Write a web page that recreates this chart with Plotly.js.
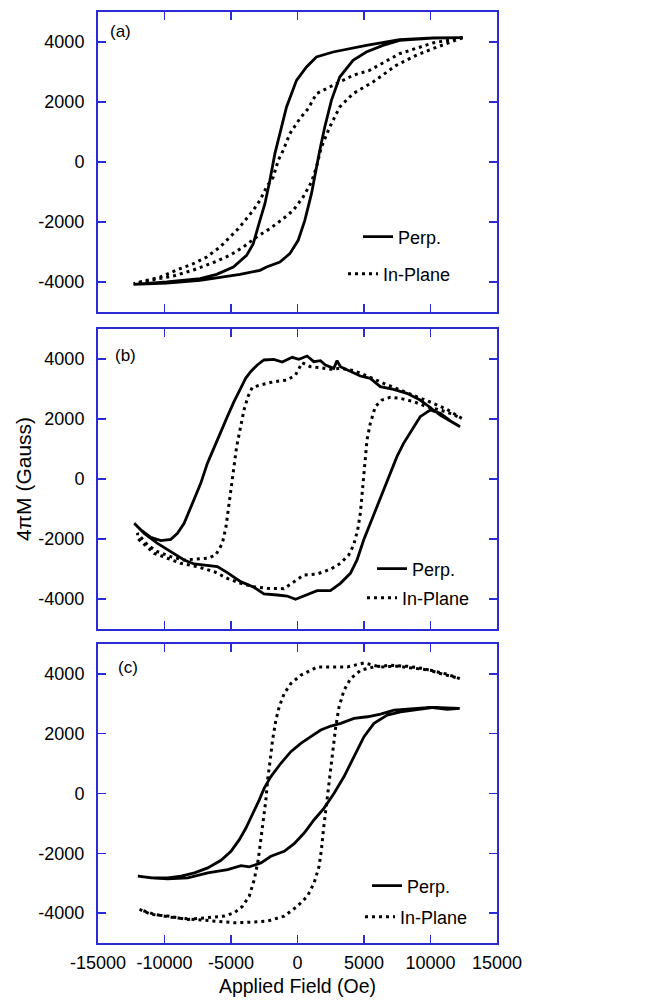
<!DOCTYPE html>
<html>
<head>
<meta charset="utf-8">
<script src="https://cdn.plot.ly/plotly-3.0.1.min.js"></script>
<style>html,body{margin:0;padding:0;background:#fff;}</style>
</head>
<body>
<div id="chart" style="width:655px;height:1003px;"></div>
<script>
// ---------- Panel (a) ----------
const aPerpDescH = [12425, 10175, 7675, 5175, 2675, 1425, 675, -75, -825, -1325, -1700, -2075, -2450, -2825, -3325, -3825, -4825, -6075, -7325, -9825, -12325];
const aPerpDescM = [4144, 4133, 4078, 3889, 3667, 3500, 3167, 2722, 1833, 944, 278, -611, -1389, -1944, -2722, -3111, -3500, -3744, -3889, -4000, -4078];
const aPerpAscH = [-9825, -7325, -4825, -4325, -2825, -2325, -1325, -575, 50, 550, 1050, 1425, 1675, 2050, 2550, 3175, 4175, 5175, 6425, 7675, 10175, 12425];
const aPerpAscM = [-4033, -3944, -3778, -3744, -3611, -3500, -3333, -3056, -2611, -1944, -1056, -167, 389, 1167, 2056, 2833, 3389, 3667, 3889, 4056, 4133, 4144];

const aInDescH = [12425, 10175, 7675, 5425, 4175, 2675, 1425, 800, 175, -575, -1075, -1450, -1825, -2325, -2825, -3325, -3825, -4450, -5075, -5825, -6825, -7825, -8825, -10325, -11825, -12325];
const aInDescM = [4144, 3967, 3611, 3056, 2889, 2556, 2278, 1778, 1444, 944, 389, 56, -500, -833, -1278, -1611, -1889, -2222, -2500, -2833, -3167, -3389, -3556, -3833, -4000, -4056];
const aInAscH = [-11075, -9325, -7825, -6325, -5075, -4075, -3075, -2075, -1075, -325, 425, 1050, 1425, 1800, 2425, 3175, 4175, 5675, 7425, 8925, 10175, 12425];
const aInAscM = [-3944, -3800, -3600, -3350, -3111, -2833, -2500, -2222, -1889, -1611, -1167, -667, -167, 500, 1167, 1833, 2278, 2667, 3222, 3556, 3778, 4144];

// ---------- Panel (b) ----------
const bPerpDescH = [12225, 11475, 10725, 10225, 9225, 8225, 7225, 6225, 5475, 4725, 3975, 3225, 2975, 2725, 2100, 1725, 1225, 725, 100, -400, -1150, -1775, -2525, -3025, -3525, -3900, -4275, -4775, -5275, -5775, -6275, -6775, -7275, -7900, -8525, -9025, -9525, -10275, -11025, -11775, -12275];
const bPerpDescM = [1744, 1944, 2133, 2300, 2633, 2856, 2989, 3078, 3356, 3433, 3578, 3744, 3944, 3689, 3800, 3944, 3911, 4100, 3989, 4056, 3900, 3989, 3967, 3800, 3578, 3356, 3022, 2578, 2078, 1578, 1078, 522, -144, -811, -1478, -1811, -2011, -2056, -1944, -1700, -1478];
const bPerpAscH = [-11525, -10525, -9525, -8525, -7775, -6775, -6025, -5275, -4275, -3275, -2525, -1525, -775, -150, 475, 1475, 2475, 3225, 3975, 4475, 4975, 5475, 5975, 6475, 6975, 7475, 7975, 8725, 9225, 9975, 10725, 11475, 12225];
const bPerpAscM = [-1811, -2144, -2422, -2700, -2833, -2889, -2922, -3122, -3422, -3611, -3833, -3867, -3900, -4011, -3900, -3722, -3722, -3478, -3144, -2700, -2033, -1478, -922, -367, 189, 744, 1189, 1744, 2078, 2300, 2189, 1944, 1744];

const bInDescH = [12350, 11225, 10225, 8975, 7725, 6475, 5225, 4225, 3225, 2475, 1725, 975, 350, -150, -775, -1775, -2775, -3400, -3725, -4025, -4325, -4575, -4775, -4975, -5175, -5375, -5650, -6150, -6775, -7525, -8525, -9525, -10525, -11275, -12025];
const bInDescM = [2022, 2322, 2522, 2744, 2944, 3189, 3433, 3611, 3689, 3656, 3711, 3744, 3878, 3467, 3300, 3244, 3133, 3056, 2744, 2300, 1633, 1078, 411, -256, -922, -1589, -2144, -2533, -2644, -2678, -2700, -2589, -2422, -2200, -1811];
const bInAscH = [-12025, -10775, -9775, -8775, -7525, -6275, -5275, -4275, -3275, -2275, -1025, -275, 475, 1475, 2475, 3225, 3850, 4225, 4525, 4725, 4850, 4975, 5100, 5225, 5475, 5850, 6350, 6975, 7725, 8725, 9725, 10725, 11475, 12350];
const bInAscM = [-1978, -2478, -2644, -2811, -2922, -3089, -3311, -3478, -3589, -3644, -3656, -3422, -3200, -3167, -3011, -2811, -2533, -2200, -1700, -1144, -589, -33, 633, 1300, 1856, 2411, 2633, 2722, 2689, 2578, 2411, 2300, 2189, 2022];

// ---------- Panel (c) ----------
const cPerpDescH = [12200, 11250, 10000, 8750, 7250, 6250, 5250, 4250, 3250, 2500, 1750, 1000, 250, -500, -1250, -2000, -2500, -2875, -3375, -3875, -4375, -5000, -5750, -6750, -7750, -8750, -9750, -11000, -12000];
const cPerpDescM = [2844, 2811, 2878, 2833, 2789, 2656, 2567, 2511, 2344, 2256, 2122, 1900, 1678, 1400, 1011, 567, 178, -211, -656, -1156, -1544, -1933, -2233, -2489, -2656, -2767, -2822, -2822, -2767];
const cPerpAscH = [-10750, -9750, -8250, -6750, -5250, -4250, -3625, -2750, -2000, -1000, -250, 500, 1250, 2000, 2750, 3500, 4250, 5000, 5750, 6750, 7750, 9000, 10250, 12200];
const cPerpAscM = [-2833, -2856, -2822, -2656, -2544, -2411, -2456, -2322, -2100, -1933, -1678, -1322, -878, -489, 11, 567, 1233, 1900, 2344, 2622, 2733, 2811, 2878, 2844];

const cInDescH = [12200, 11250, 10000, 8750, 7500, 6250, 5000, 3750, 2500, 1500, 250, -500, -1000, -1375, -1625, -1875, -2050, -2250, -2375, -2550, -2750, -2950, -3250, -3625, -4125, -4750, -5500, -6750, -8250, -9750, -11000, -11875];
const cInDescM = [3844, 3989, 4122, 4200, 4256, 4233, 4367, 4233, 4233, 4233, 3956, 3678, 3344, 2900, 2456, 1789, 1122, 456, -211, -878, -1544, -2211, -2878, -3433, -3767, -3989, -4100, -4156, -4211, -4100, -4044, -3878];
const cInAscH = [-10750, -9250, -7750, -6000, -4750, -3250, -2250, -1000, 0, 750, 1250, 1625, 1800, 1950, 2125, 2300, 2500, 2700, 2875, 3125, 3500, 4000, 4750, 5750, 7000, 8250, 9500, 10750, 12200];
const cInAscM = [-4044, -4156, -4211, -4267, -4322, -4300, -4267, -4100, -3767, -3433, -2989, -2433, -1878, -1211, -544, 122, 789, 1567, 2233, 2900, 3456, 3844, 4122, 4233, 4289, 4256, 4178, 4011, 3844];

const xTicks = [-15000, -10000, -5000, 0, 5000, 10000, 15000];
const yTicks = [-4000, -2000, 0, 2000, 4000];
const seriesNames = ['Perp.', 'In-Plane'];
const panelLabels = ['(a)', '(b)', '(c)'];

const FONT = 'Liberation Sans, Arial, Helvetica, sans-serif';
const BLUE = '#2a2ad6';
const solid = {color: '#000', width: 2.8};
const dotted = {color: '#000', width: 3, dash: '3px,4px'};

function tr(h, m, xa, ya, name, line, legend) {
  return {type: 'scatter', mode: 'lines', x: h, y: m, xaxis: xa, yaxis: ya,
          name: name, line: line, legend: legend, hoverinfo: 'skip'};
}

const data = [
  tr(aPerpDescH.concat(aPerpAscH), aPerpDescM.concat(aPerpAscM), 'x', 'y', seriesNames[0], solid, 'legend'),
  tr(aInDescH.concat(aInAscH), aInDescM.concat(aInAscM), 'x', 'y', seriesNames[1], dotted, 'legend2'),
  tr(bPerpDescH.concat(bPerpAscH), bPerpDescM.concat(bPerpAscM), 'x2', 'y2', seriesNames[0], solid, 'legend3'),
  tr(bInDescH.concat(bInAscH), bInDescM.concat(bInAscM), 'x2', 'y2', seriesNames[1], dotted, 'legend4'),
  tr(cPerpDescH.concat(cPerpAscH), cPerpDescM.concat(cPerpAscM), 'x3', 'y3', seriesNames[0], solid, 'legend5'),
  tr(cInDescH.concat(cInAscH), cInDescM.concat(cInAscM), 'x3', 'y3', seriesNames[1], dotted, 'legend6')
];

// pixel helpers for layout (plot area: x 98..497, y 12..943)
const L = 98, R = 497, T = 12, B = 943;
const px2x = p => (p - L) / (R - L);
const px2y = p => (B - p) / (B - T);

function xax(showLabels, anchor, title) {
  const o = {
    domain: [0, 1], range: [-15000, 15000], anchor: anchor,
    tickvals: xTicks, ticktext: xTicks.map(String), showticklabels: showLabels,
    ticks: 'inside', ticklen: 8, tickwidth: 1.5, tickcolor: BLUE,
    showline: true, linecolor: BLUE, linewidth: 2, mirror: 'ticks',
    showgrid: false, zeroline: false, ticklabelstandoff: 2,
    tickfont: {family: FONT, size: 18, color: '#000'}
  };
  if (title) o.title = {text: title, font: {family: FONT, size: 19.5, color: '#000'}, standoff: 8};
  return o;
}
function yax(domain, anchor, title) {
  const o = {
    domain: domain, range: [-5000, 5000], anchor: anchor,
    tickvals: yTicks, ticktext: yTicks.map(String),
    ticks: 'inside', ticklen: 8, tickwidth: 1.5, tickcolor: BLUE,
    showline: true, linecolor: BLUE, linewidth: 2, mirror: 'ticks',
    showgrid: false, zeroline: false, ticklabelstandoff: 8,
    tickfont: {family: FONT, size: 18, color: '#000'}
  };
  if (title) o.title = {text: title, font: {family: FONT, size: 21, color: '#000'}, standoff: 1};
  return o;
}

function leg(lineStartPx, yPx) {
  return {x: px2x(lineStartPx - 5), xanchor: 'left', y: px2y(yPx), yanchor: 'middle',
          bgcolor: 'rgba(0,0,0,0)', borderwidth: 0,
          font: {family: FONT, size: 18, color: '#000'}};
}

const layout = {
  width: 655, height: 1003,
  margin: {l: L, r: 655 - R, t: T, b: 1003 - B, pad: 0},
  paper_bgcolor: '#fff', plot_bgcolor: '#fff',
  font: {family: FONT, color: '#000'},
  showlegend: true,
  xaxis: xax(false, 'y'),
  xaxis2: xax(false, 'y2'),
  xaxis3: xax(true, 'y3', 'Applied Field (Oe)'),
  yaxis: yax([px2y(312), 1], 'x'),
  yaxis2: yax([px2y(629), px2y(329)], 'x2', '4\u03c0M (Gauss)'),
  yaxis3: yax([0, px2y(644)], 'x3'),
  legend: leg(363, 237),
  legend2: leg(348, 274),
  legend3: leg(377, 569),
  legend4: leg(367, 598),
  legend5: leg(372, 886),
  legend6: leg(365, 917),
  annotations: [
    {text: panelLabels[0], xref: 'paper', yref: 'paper', x: px2x(108), y: px2y(32), xanchor: 'left', yanchor: 'middle', showarrow: false, font: {family: FONT, size: 17, color: '#000'}},
    {text: panelLabels[1], xref: 'paper', yref: 'paper', x: px2x(113), y: px2y(355), xanchor: 'left', yanchor: 'middle', showarrow: false, font: {family: FONT, size: 17, color: '#000'}},
    {text: panelLabels[2], xref: 'paper', yref: 'paper', x: px2x(116), y: px2y(667), xanchor: 'left', yanchor: 'middle', showarrow: false, font: {family: FONT, size: 17, color: '#000'}}
  ]
};

Plotly.newPlot('chart', data, layout, {staticPlot: true, displayModeBar: false});
</script>
</body>
</html>
